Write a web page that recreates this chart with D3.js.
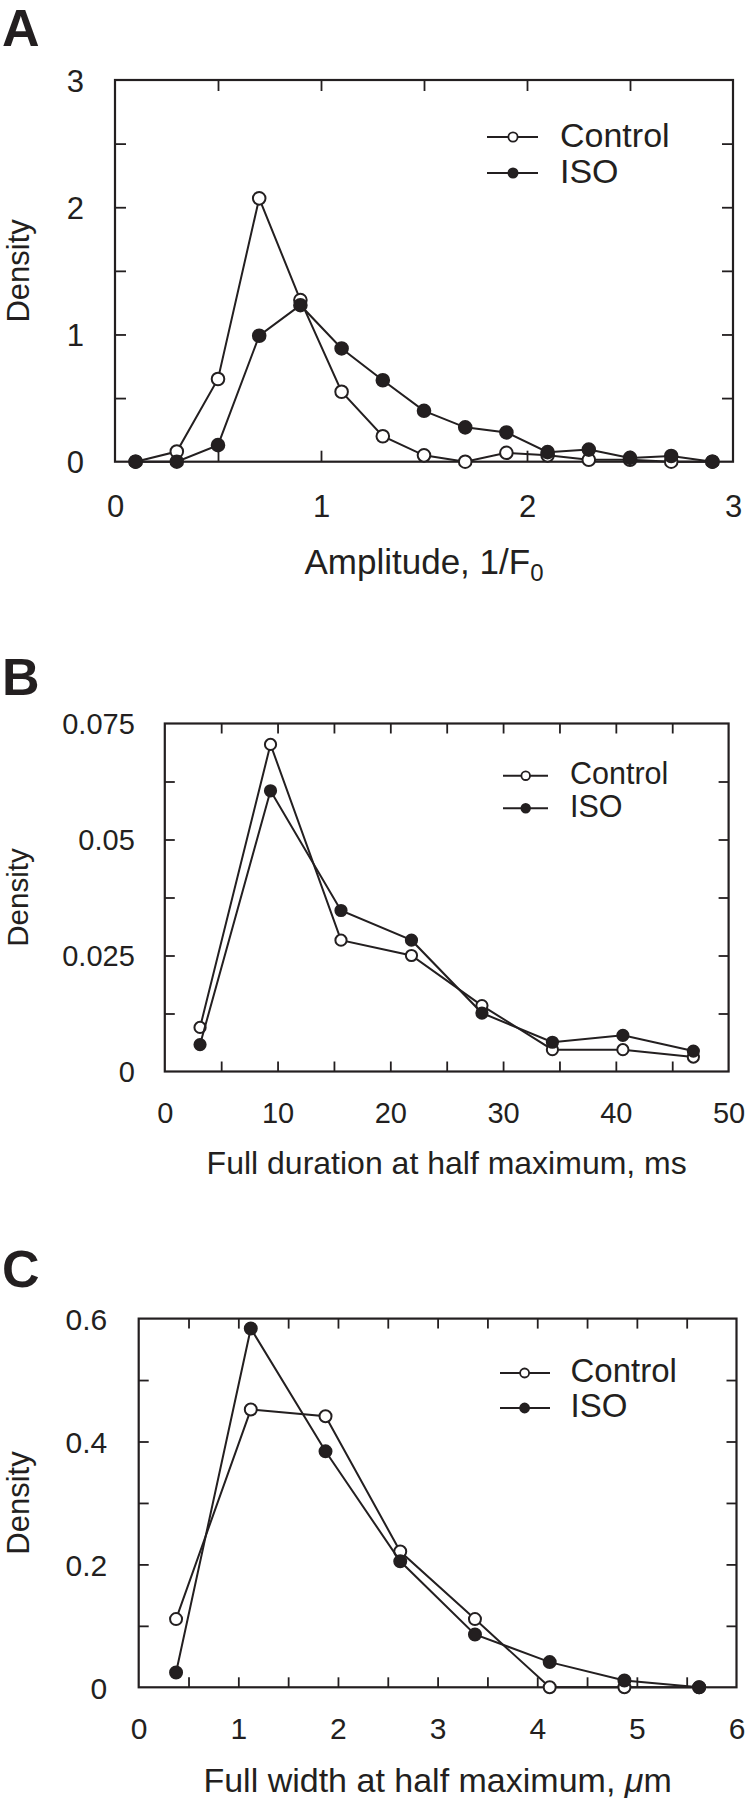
<!DOCTYPE html>
<html>
<head>
<meta charset="utf-8">
<script src="https://cdn.jsdelivr.net/npm/d3@7"></script>
<style>
  html, body { margin: 0; padding: 0; background: #fff; }
  svg { display: block; }
  text { font-family: "Liberation Sans", Arial, sans-serif; fill: #231f20; }
</style>
</head>
<body>
<svg id="chart" width="746" height="1804"></svg>
<script>
// ---------------- DATA ----------------
const seriesNames = ["Control", "ISO"];

// Panel A: amplitude (1/F0)
const ampX = [0.1, 0.3, 0.5, 0.7, 0.9, 1.1, 1.3, 1.5, 1.7, 1.9, 2.1, 2.3, 2.5, 2.7, 2.9];
const ampControl = [0, 0.08, 0.65, 2.07, 1.27, 0.55, 0.20, 0.05, 0.0, 0.07, 0.05, 0.015, 0.015, 0.0, 0.0];
const ampISO     = [0, 0.0, 0.13, 0.99, 1.23, 0.89, 0.64, 0.40, 0.27, 0.23, 0.075, 0.095, 0.03, 0.045, 0.0];
const ampXTickMarks = [0.5, 1, 1.5, 2, 2.5];
const ampXTickLabels = [0, 1, 2, 3];
const ampYTickMarks = [0.5, 1, 1.5, 2, 2.5];
const ampYTickLabels = [0, 1, 2, 3];

// Panel B: full duration at half maximum (ms)
const durX = [3.125, 9.375, 15.625, 21.875, 28.125, 34.375, 40.625, 46.875];
const durControl = [0.0095, 0.0705, 0.0283, 0.0250, 0.0142, 0.0047, 0.0047, 0.0031];
const durISO     = [0.0058, 0.0605, 0.0347, 0.0283, 0.0126, 0.0063, 0.0078, 0.0044];
const durXTickMarks = [5, 10, 15, 20, 25, 30, 35, 40, 45];
const durXTickLabels = [0, 10, 20, 30, 40, 50];
const durYTickMarks = [0.0125, 0.025, 0.0375, 0.05, 0.0625];
const durYTickLabels = [0, 0.025, 0.05, 0.075];

// Panel C: full width at half maximum (um)
const widX = [0.375, 1.125, 1.875, 2.625, 3.375, 4.125, 4.875, 5.625];
const widControl = [0.111, 0.452, 0.441, 0.221, 0.111, 0.0, 0.0, 0.0];
const widISO     = [0.024, 0.584, 0.384, 0.205, 0.086, 0.041, 0.011, 0.0];
const widXTickMarks = [0.5, 1, 1.5, 2, 2.5, 3, 3.5, 4, 4.5, 5, 5.5];
const widXTickLabels = [0, 1, 2, 3, 4, 5, 6];
const widYTickMarks = [0.1, 0.2, 0.3, 0.4, 0.5];
const widYTickLabels = [0, 0.2, 0.4, 0.6];

// ---------------- DRAWING ----------------
const INK = "#231f20";
const svg = d3.select("#chart");

function drawPanel(cfg) {
  const x = d3.scaleLinear().domain(cfg.xDomain).range([cfg.left, cfg.right]);
  const y = d3.scaleLinear().domain(cfg.yDomain).range([cfg.bottom, cfg.top]);
  const g = svg.append("g");

  // panel letter
  g.append("text").attr("x", 2).attr("y", cfg.letterY)
    .style("font-size", "52px").style("font-weight", "bold").text(cfg.letter);

  // tick marks (inward, all four sides)
  const tk = cfg.tickLen;
  const strip = s => { s.select(".domain").remove(); s.selectAll("text").remove();
    s.selectAll("line").attr("stroke", INK).attr("stroke-width", 1.8); };
  g.append("g").attr("transform", `translate(0,${cfg.bottom})`)
    .call(d3.axisBottom(x).tickValues(cfg.xMarks).tickSize(-tk)).call(strip);
  g.append("g").attr("transform", `translate(0,${cfg.top})`)
    .call(d3.axisTop(x).tickValues(cfg.xMarks).tickSize(-tk)).call(strip);
  g.append("g").attr("transform", `translate(${cfg.left},0)`)
    .call(d3.axisLeft(y).tickValues(cfg.yMarks).tickSize(-tk)).call(strip);
  g.append("g").attr("transform", `translate(${cfg.right},0)`)
    .call(d3.axisRight(y).tickValues(cfg.yMarks).tickSize(-tk)).call(strip);

  // tick labels
  const xl = g.append("g").attr("transform", `translate(0,${cfg.bottom})`)
    .call(d3.axisBottom(x).tickValues(cfg.xLabels).tickSize(0).tickFormat(cfg.xFmt));
  xl.select(".domain").remove();
  xl.selectAll("line").remove();
  xl.selectAll("text").attr("y", cfg.xLabelOff).attr("dy", null)
    .attr("fill", INK).style("font-size", cfg.tickFs + "px")
    .style("font-family", '"Liberation Sans", Arial, sans-serif');
  xl.attr("font-size", null).attr("font-family", null);

  const yl = g.append("g").attr("transform", `translate(${cfg.left},0)`)
    .call(d3.axisLeft(y).tickValues(cfg.yLabels).tickSize(0).tickFormat(cfg.yFmt));
  yl.select(".domain").remove();
  yl.selectAll("line").remove();
  yl.selectAll("text").attr("x", -cfg.yLabelOff).attr("dy", "0.36em")
    .attr("fill", INK).style("font-size", cfg.tickFs + "px")
    .style("font-family", '"Liberation Sans", Arial, sans-serif');
  yl.attr("font-size", null).attr("font-family", null);

  // frame
  g.append("rect").attr("x", cfg.left).attr("y", cfg.top)
    .attr("width", cfg.right - cfg.left).attr("height", cfg.bottom - cfg.top)
    .attr("fill", "none").attr("stroke", INK).attr("stroke-width", 2.2);

  // axis titles
  g.append("text").attr("transform", `translate(${cfg.yTitleX},${(cfg.top + cfg.bottom) / 2}) rotate(-90)`)
    .attr("text-anchor", "middle").style("font-size", cfg.yTitleFs + "px").text("Density");
  const xt = g.append("text").attr("x", (cfg.left + cfg.right) / 2).attr("y", cfg.xTitleY)
    .attr("text-anchor", "middle").style("font-size", cfg.xTitleFs + "px");
  cfg.xTitle(xt);

  // series
  const line = d3.line().x(d => x(d[0])).y(d => y(d[1]));
  cfg.series.forEach((s, i) => {
    const pts = cfg.xs.map((v, j) => [v, s[j]]);
    g.append("path").datum(pts).attr("d", line)
      .attr("fill", "none").attr("stroke", INK).attr("stroke-width", 2);
    g.selectAll(null).data(pts).join("circle")
      .attr("cx", d => x(d[0])).attr("cy", d => y(d[1])).attr("r", cfg.markR)
      .attr("fill", i === 0 ? "#fff" : INK).attr("stroke", INK).attr("stroke-width", 2);
  });

  // legend
  const L = cfg.legend;
  seriesNames.forEach((name, i) => {
    const ly = L.rows[i];
    g.append("line").attr("x1", L.x0).attr("x2", L.x1).attr("y1", ly).attr("y2", ly)
      .attr("stroke", INK).attr("stroke-width", 2);
    g.append("circle").attr("cx", L.cx).attr("cy", ly).attr("r", L.r)
      .attr("fill", i === 0 ? "#fff" : INK).attr("stroke", INK).attr("stroke-width", 1.8);
    g.append("text").attr("x", L.tx).attr("y", ly + L.fs * 0.358 - 2.5)
      .style("font-size", L.fs + "px").text(name);
  });
}

const fmtPlain = d => String(d);

drawPanel({
  letter: "A", letterY: 46,
  left: 115, right: 733, top: 80, bottom: 461.7,
  xDomain: [0, 3], yDomain: [0, 3],
  xMarks: ampXTickMarks, xLabels: ampXTickLabels, yMarks: ampYTickMarks, yLabels: ampYTickLabels,
  xFmt: fmtPlain, yFmt: fmtPlain,
  tickLen: 11, tickFs: 31, xLabelOff: 55, yLabelOff: 31,
  yTitleX: 29, yTitleFs: 31, xTitleY: 574, xTitleFs: 35,
  xTitle: t => { t.append("tspan").text("Amplitude, 1/F");
                 t.append("tspan").attr("dy", "0.28em").style("font-size", "24px").text("0"); },
  xs: ampX, series: [ampControl, ampISO], markR: 6.3,
  legend: { x0: 487, x1: 538, cx: 513, r: 4.6, tx: 560, rows: [137, 173], fs: 34 }
});

drawPanel({
  letter: "B", letterY: 695,
  left: 164.8, right: 728.6, top: 723.5, bottom: 1071.5,
  xDomain: [0, 50], yDomain: [0, 0.075],
  xMarks: durXTickMarks, xLabels: durXTickLabels, yMarks: durYTickMarks, yLabels: durYTickLabels,
  xFmt: fmtPlain, yFmt: fmtPlain,
  tickLen: 10, tickFs: 29, xLabelOff: 51, yLabelOff: 30,
  yTitleX: 28, yTitleFs: 29.5, xTitleY: 1174, xTitleFs: 32,
  xTitle: t => t.text("Full duration at half maximum, ms"),
  xs: durX, series: [durControl, durISO], markR: 5.6,
  legend: { x0: 503, x1: 548, cx: 525.7, r: 4.3, tx: 570, rows: [775.7, 808.3], fs: 30.5 }
});

drawPanel({
  letter: "C", letterY: 1287,
  left: 138.7, right: 736.5, top: 1318.6, bottom: 1687.3,
  xDomain: [0, 6], yDomain: [0, 0.6],
  xMarks: widXTickMarks, xLabels: widXTickLabels, yMarks: widYTickMarks, yLabels: widYTickLabels,
  xFmt: fmtPlain, yFmt: fmtPlain,
  tickLen: 10, tickFs: 30, xLabelOff: 52, yLabelOff: 31.5,
  yTitleX: 29, yTitleFs: 31, xTitleY: 1792, xTitleFs: 34,
  xTitle: t => { t.append("tspan").text("Full width at half maximum, ");
                 t.append("tspan").style("font-style", "italic").text("\u03bc");
                 t.append("tspan").text("m"); },
  xs: widX, series: [widControl, widISO], markR: 6,
  legend: { x0: 500, x1: 550, cx: 524.6, r: 4.5, tx: 570.5, rows: [1373, 1408], fs: 33 }
});
</script>
</body>
</html>
